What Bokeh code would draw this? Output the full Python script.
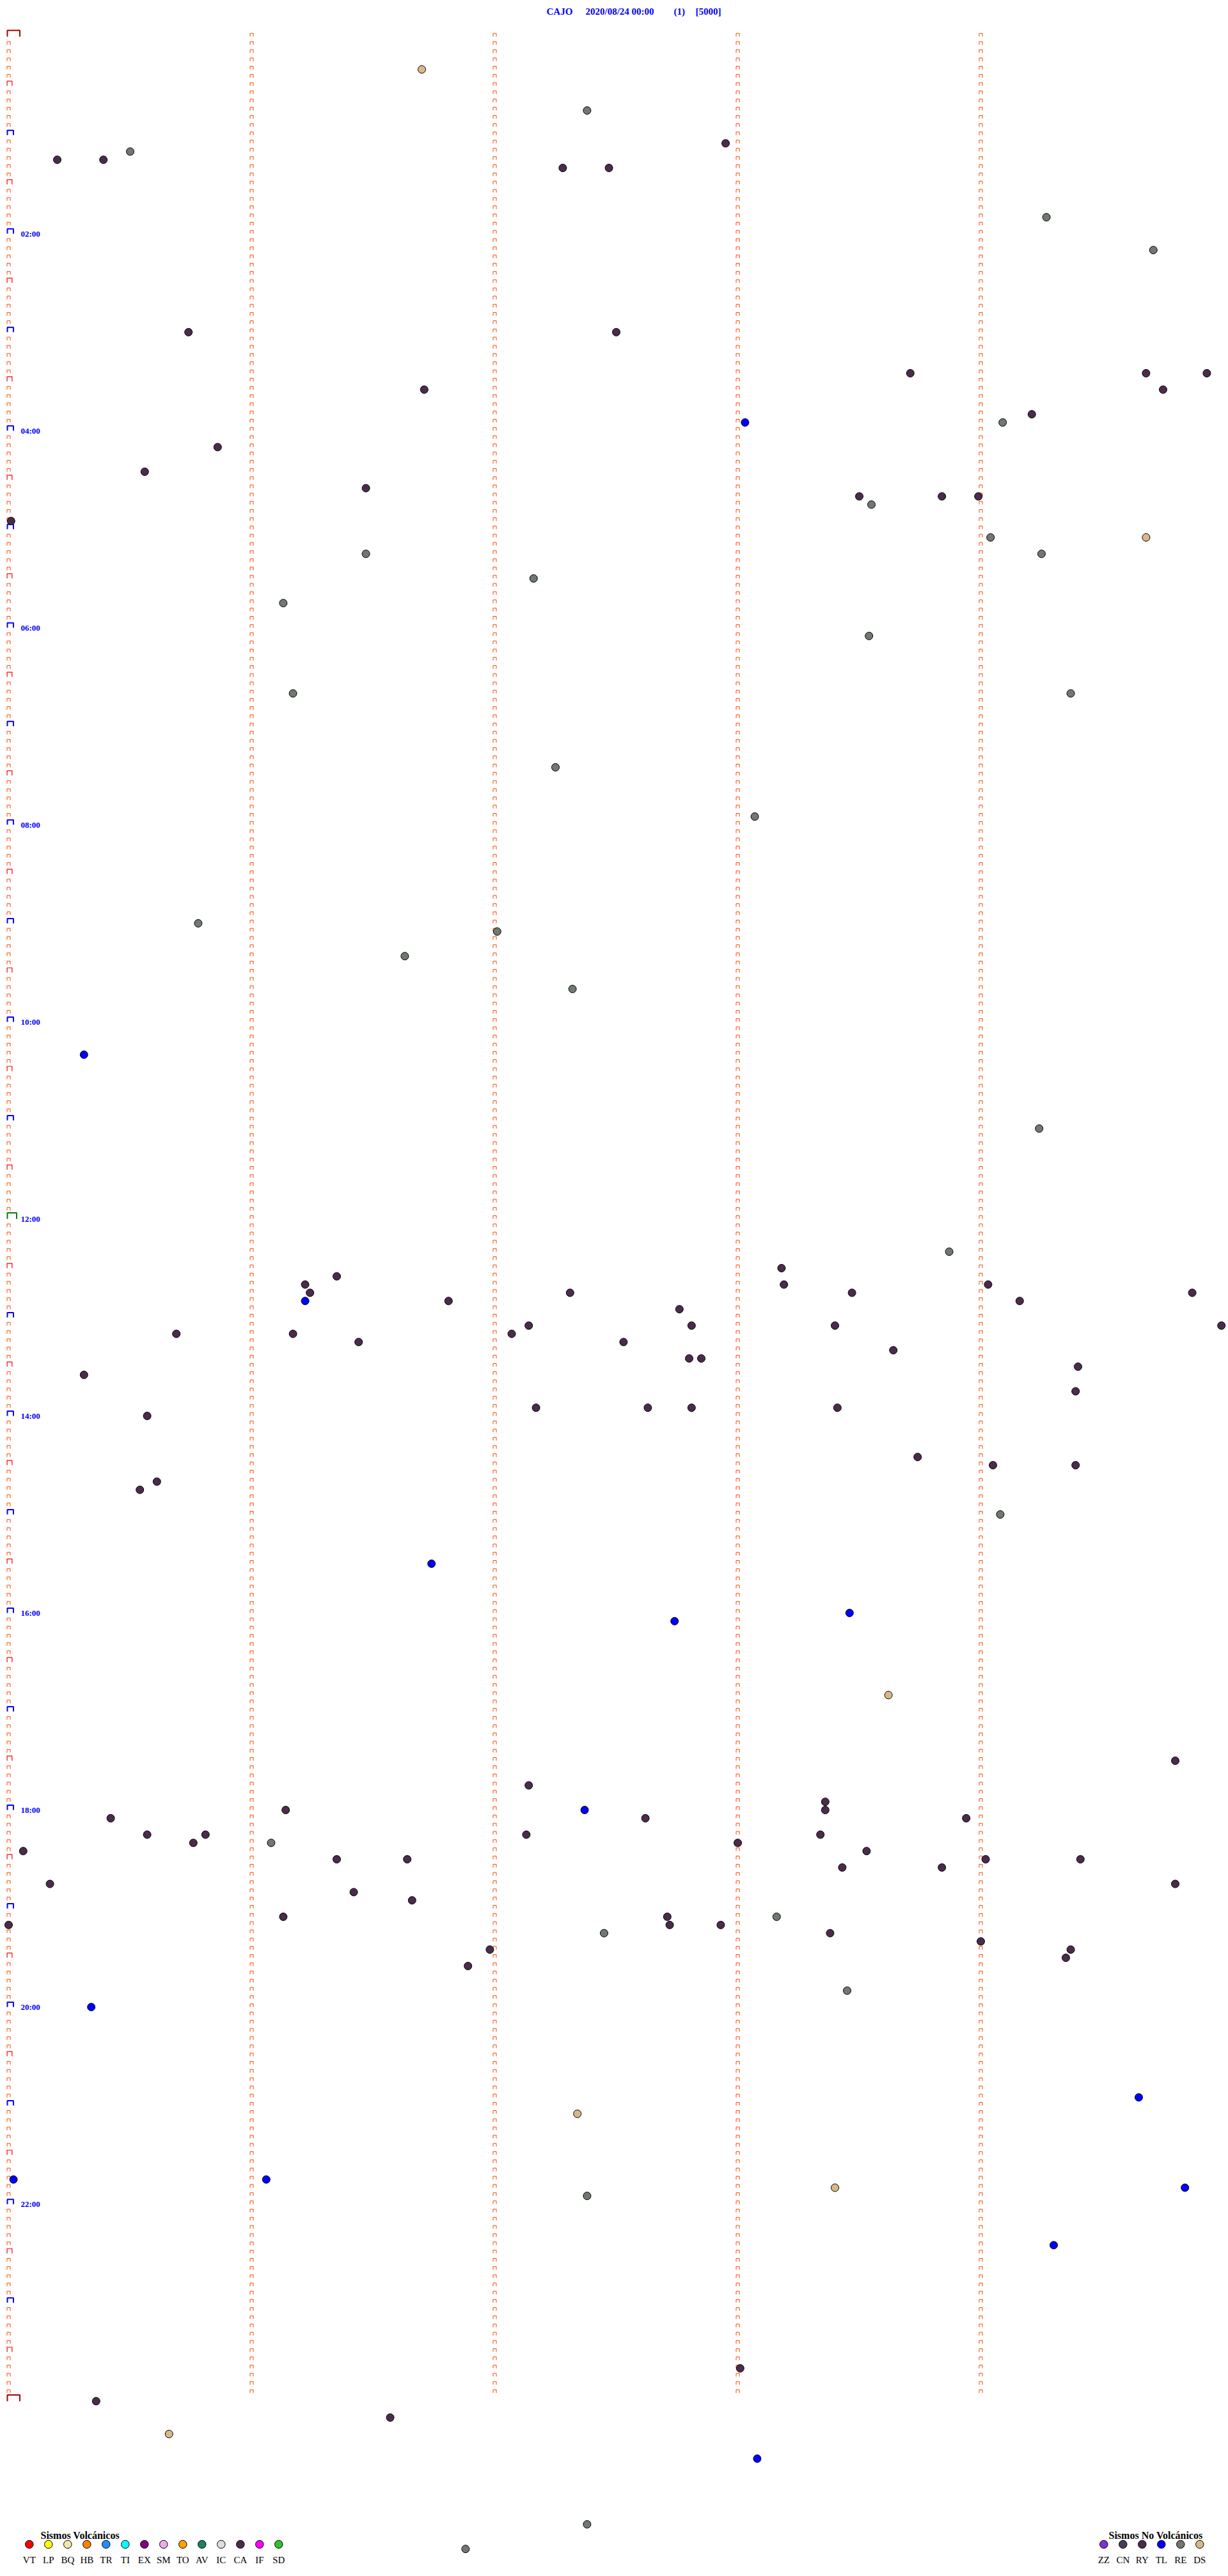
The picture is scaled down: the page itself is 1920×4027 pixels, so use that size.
import numpy as np
from bokeh.plotting import figure
from bokeh.models import Range1d
from bokeh.core.properties import value
from bokeh.embed import file_html
from bokeh.resources import INLINE

# ---------------- data ----------------
station = "CAJO"
start_label = "2020/08/24 00:00"
page_label = "(1)"
gain_label = "[5000]"

line_minutes = 5          # each helicorder line spans 5 minutes
day_hours = 24
label_hours = [2, 4, 6, 8, 10, 12, 14, 16, 18, 20, 22]

volc_types = ["VT", "LP", "BQ", "HB", "TR", "TI", "EX", "SM", "TO", "AV", "IC", "CA", "IF", "SD"]
volc_colors = ["#FF0000", "#FFFF00", "#EEE8AA", "#FF8000", "#1E90FF", "#00FFFF", "#800080",
               "#EEAAEE", "#FFA000", "#208060", "#DDDDDD", "#4B2B4B", "#FF00FF", "#30C030"]
nonvolc_types = ["ZZ", "CN", "RY", "TL", "RE", "DS"]
nonvolc_colors = ["#8030D0", "#4B3B5B", "#4B2B4B", "#0000FF", "#707870", "#D8B888"]

# event times in minutes after 00:00 and their type
event_min = [
    21.70, 47.38, 75.20, 75.39, 70.50, 82.28, 82.47, 67.95, 114.27, 134.71,
    180.74, 182.50, 208.71, 209.68, 209.93, 219.75, 216.71, 234.21, 239.09, 238.03,
    250.86, 265.56, 276.47, 283.50, 288.55, 283.84, 283.99, 295.01, 309.04, 309.68,
    316.47, 319.25, 332.16, 346.13, 368.54, 401.17, 404.37, 447.25, 478.07, 540.78,
    547.01, 561.63, 582.32, 620.31, 669.24, 743.87, 753.18, 763.19, 756.35, 761.22,
    766.24, 771.22, 764.03, 768.47, 767.31, 774.16, 771.81, 769.87, 789.99, 777.76,
    787.14, 792.07, 787.81, 788.40, 790.69, 791.17, 796.44, 797.53, 803.64, 807.80,
    807.85, 814.40, 815.31, 829.39, 837.17, 837.63, 837.81, 838.41, 840.57, 868.74,
    874.05, 874.39, 880.61, 885.54, 904.08, 931.74, 963.46, 967.74, 1013.62, 1054.80,
    1067.14, 1078.36, 1083.36, 1082.37, 1081.14, 1085.42, 1087.62, 1088.94, 1095.57, 1095.81,
    1097.13, 1098.34, 1100.76, 1101.08, 1103.00, 1108.53, 1105.06, 1111.35, 1111.64, 1114.02,
    1114.41, 1118.43, 1118.84, 1125.17, 1129.80, 1131.42, 1136.66, 1146.13, 1147.71, 1148.16,
    1152.72, 1152.93, 1150.00, 1157.45, 1158.38, 1164.00, 1169.37, 1166.98, 1174.35, 1176.89,
    1193.45, 1200.34, 1259.65, 1267.34, 1305.02, 1306.06, 1313.40, 1314.84, 1317.38, 1349.30,
    1423.01, 1440.36, 1451.57, 1460.66, 1478.08, 1517.38, 1531.88,
]
event_type = [
    "DS", "RE", "CA", "CA", "RE", "CA", "CA", "CA", "RE", "RE",
    "CA", "CA", "CA", "CA", "CA", "CA", "CA", "CA", "RE", "TL",
    "CA", "CA", "CA", "CA", "RE", "CA", "CA", "CA", "RE", "DS",
    "RE", "RE", "RE", "RE", "RE", "RE", "RE", "RE", "RE", "RE",
    "RE", "RE", "RE", "TL", "RE", "RE", "CA", "CA", "CA", "CA",
    "CA", "TL", "CA", "CA", "CA", "CA", "CA", "CA", "CA", "CA",
    "CA", "CA", "CA", "CA", "CA", "CA", "CA", "CA", "CA", "CA",
    "CA", "CA", "CA", "CA", "CA", "CA", "CA", "CA", "CA", "CA",
    "CA", "CA", "CA", "CA", "RE", "TL", "TL", "TL", "DS", "CA",
    "CA", "CA", "CA", "TL", "CA", "CA", "CA", "CA", "CA", "CA",
    "CA", "CA", "CA", "RE", "CA", "CA", "CA", "CA", "CA", "CA",
    "CA", "CA", "CA", "CA", "CA", "CA", "CA", "CA", "CA", "RE",
    "CA", "CA", "CA", "RE", "CA", "CA", "CA", "CA", "CA", "CA",
    "RE", "TL", "TL", "DS", "TL", "TL", "DS", "TL", "RE", "TL",
    "CA", "CA", "CA", "DS", "TL", "RE", "RE",
]

# ---------------- layout (page pixels) ----------------
W, H = 1920, 4027
ORIGIN = 0     # the page template puts the canvas at the page's top-left corner
PX_PER_MIN = 380.0
PX_PER_ROW = 12.835
X0 = 13.0      # page x of minute 0 in a line
Y0 = 56.7      # page y of line 0 baseline
SERIF = value("Liberation Serif")


def dx(px):
    return (px - X0) / PX_PER_MIN


def dy(py):
    return (py - Y0) / PX_PER_ROW


p = figure(width=W, height=H, output_backend="svg", toolbar_location=None,
           x_range=Range1d(dx(ORIGIN), dx(ORIGIN + W)),
           y_range=Range1d(dy(ORIGIN + H), dy(ORIGIN)),
           x_axis_location=None, y_axis_location=None, min_border=0,
           tools="")
p.grid.visible = False
p.outline_line_color = None
p.background_fill_color = "white"
p.border_fill_color = "white"

n_rows = day_hours * 60 // line_minutes     # 288
rows_per_hour = 60 // line_minutes


def bracket(col, row, w, h, lw):
    left = X0 - 3 + PX_PER_MIN * col + lw / 2
    right = X0 - 3 + PX_PER_MIN * col + w - lw / 2
    base = Y0 + PX_PER_ROW * row
    top = base - h + lw / 2
    return [dx(left), dx(left), dx(right), dx(right)], [dy(base), dy(top), dy(top), dy(base)]


groups = {"small": ([], []), "half": ([], []), "hour": ([], []), "noon": ([], []), "day": ([], [])}
for col in range(line_minutes):
    last = n_rows if col == 0 else n_rows - 1
    for r in range(last + 1):
        if col == 0 and r % rows_per_hour == 0:
            if r % n_rows == 0:
                key, geo = "day", (21.5, 10.7, 2)
            elif r == n_rows // 2:
                key, geo = "noon", (16.5, 10.5, 2)
            else:
                key, geo = "hour", (11.5, 8.5, 2)
        elif col == 0 and r % (rows_per_hour // 2) == 0:
            key, geo = "half", (9.0, 8.0, 1.2)
        else:
            key, geo = "small", (6.0, 5.5, 1)
        xs, ys = bracket(col, r, *geo)
        groups[key][0].append(xs)
        groups[key][1].append(ys)

styles = {"small": ("#FF4500", 1), "half": ("#FF0000", 1.2), "hour": ("#0000FF", 2),
          "noon": ("#008000", 2), "day": ("#A00000", 2)}
for key, (xs, ys) in groups.items():
    col, lw = styles[key]
    p.multi_line(xs=xs, ys=ys, line_color=col, line_width=lw)

# hour labels
p.text(x=[dx(32)] * len(label_hours), y=[h * rows_per_hour for h in label_hours],
       text=["%02d:00" % h for h in label_hours], text_font=SERIF, text_font_style="bold",
       text_font_size="13px", text_color="#0000FF", text_baseline="alphabetic", text_align="left")

# title
p.text(x=[dx(854), dx(915), dx(1053), dx(1087)], y=[dy(17.5)] * 4,
       text=[station, start_label, page_label, gain_label], text_font=SERIF,
       text_font_style="bold", text_font_size="15px", text_color="#0000FF",
       text_baseline="alphabetic", text_align="left")

# events
color_of = dict(zip(volc_types + nonvolc_types, volc_colors + nonvolc_colors))
t = np.array(event_min)
ev_row = np.floor(t / line_minutes + 1e-9)
ev_off = t - ev_row * line_minutes
p.scatter(x=ev_off, y=ev_row, size=12, fill_color=[color_of[k] for k in event_type],
          line_color="black", line_width=1)

# legends
def legend(types, colors, x_first, title, title_x):
    xs = [dx(x_first + 30 * i) for i in range(len(types))]
    p.scatter(x=xs, y=[dy(3977)] * len(types), size=12.5, fill_color=colors,
              line_color="black", line_width=1)
    p.text(x=xs, y=[dy(4001.5)] * len(types), text=types, text_font=SERIF,
           text_font_size="15px", text_color="black", text_baseline="alphabetic",
           text_align="center")
    p.text(x=[dx(title_x)], y=[dy(3963)], text=[title], text_font=SERIF,
           text_font_style="bold", text_font_size="16px", text_color="black",
           text_baseline="alphabetic", text_align="left")


legend(volc_types, volc_colors, 45.3, "Sismos Volcánicos", 63)
legend(nonvolc_types, nonvolc_colors, 1725.3, "Sismos No Volcánicos", 1733)

open("out.html", "w").write(file_html(p, INLINE))
